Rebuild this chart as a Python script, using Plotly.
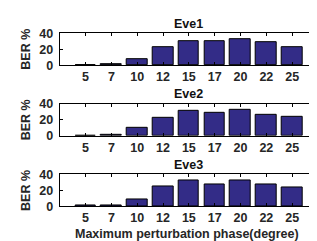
import plotly.graph_objects as go

categories = ["5", "7", "10", "12", "15", "17", "20", "22", "25"]
eve1 = [0.5, 0.8, 7.0, 22.5, 30.0, 30.5, 33.0, 28.5, 22.0]
eve2 = [0.3, 1.2, 9.5, 22.8, 31.5, 28.5, 33.0, 26.0, 23.3]
eve3 = [0.8, 0.8, 8.5, 24.5, 32.0, 27.5, 32.0, 28.0, 23.5]
titles = ["Eve1", "Eve2", "Eve3"]
series = [eve1, eve2, eve3]
y_ticks = [0, 20, 40]

W, H = 317, 241
FONT = "Liberation Sans"
FS = 12.5
TXT = "#262626"
BAR = "#332c87"

fig = go.Figure()
xpos = list(range(1, len(categories) + 1))

# pixel geometry of each subplot (top, bottom)
boxes = [(19.3, 53.3), (94.3, 128.3), (169.3, 203.3)]
xl, xr = 51.7, 310.0

for i, (t, vals) in enumerate(zip(titles, series)):
    n = "" if i == 0 else str(i + 1)
    fig.add_trace(go.Bar(
        x=xpos, y=vals, width=0.8,
        marker=dict(color=BAR, line=dict(color="black", width=1)),
        xaxis="x" + n, yaxis="y" + n, showlegend=False,
    ))
    top, bot = boxes[i]
    fig.layout["xaxis" + n] = dict(
        domain=[xl / W, xr / W], range=[0, 10], anchor="y" + n,
        tickvals=xpos, ticktext=categories, ticks="inside", ticklen=3,
        tickcolor="black", showline=True, linecolor="black", linewidth=1,
        mirror="ticks", showgrid=False, zeroline=False,
        tickfont=dict(family=FONT, size=FS, color=TXT, weight="bold"),
    )
    fig.layout["yaxis" + n] = dict(
        domain=[1 - bot / H, 1 - top / H], range=[0, 40], anchor="x" + n,
        tickvals=y_ticks, ticks="inside", ticklen=3, tickcolor="black",
        showline=True, linecolor="black", linewidth=1, mirror="ticks",
        showgrid=False, zeroline=False, ticklabelstandoff=3,
        tickfont=dict(family=FONT, size=FS, color=TXT, weight="bold"),
        title=dict(text="<b>BER %</b>", font=dict(family=FONT, size=FS, color=TXT), standoff=5),
    )
    fig.add_annotation(
        text="<b>" + t + "</b>", xref="paper", yref="paper",
        x=(xl + xr) / 2 / W, y=1 - (top - 10) / H, showarrow=False,
        font=dict(family=FONT, size=FS, color="#111"), xanchor="center", yanchor="middle",
    )

fig.add_annotation(
    text="<b>Maximum perturbation phase(degree)</b>", xref="paper", yref="paper",
    x=(xl + xr) / 2 / W - 2 / W, y=1 - 232 / H, showarrow=False,
    font=dict(family=FONT, size=FS, color=TXT), xanchor="center", yanchor="middle",
)

fig.update_layout(
    width=W, height=H, margin=dict(l=0, r=0, t=0, b=0),
    paper_bgcolor="white", plot_bgcolor="white", bargap=0,
)
fig.write_html("out.html")
